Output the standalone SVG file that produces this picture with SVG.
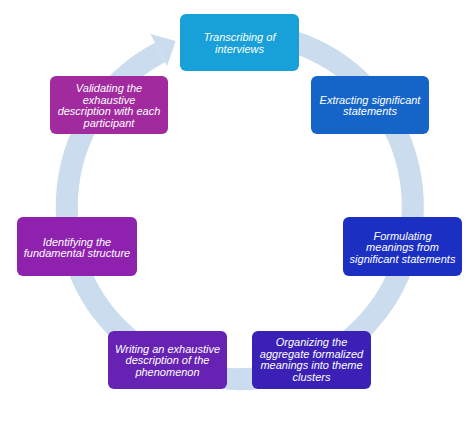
<svg xmlns="http://www.w3.org/2000/svg" width="476" height="430" viewBox="0 0 476 430">
<style>
.box{stroke:none}
.t{font-family:"Liberation Sans",Arial,sans-serif;font-size:11px;font-style:italic;fill:#ffffff;text-anchor:middle}
.ring{fill:none;stroke:#cadcee;stroke-width:22}
</style>
<rect width="476" height="430" fill="#ffffff"/>
<g id="connectors">
<path class="ring" d="M 224.9 33.7 A 173 173 0 1 1 160.1 52.5"/>
<polygon points="150.4,33.9 175.6,41.1 167.1,65.9" fill="#cadcee"/>
</g>
<g id="n1">
<rect class="box" x="180" y="14" width="119" height="57" rx="6" fill="#18a0d8"/>
<text class="t" x="239.5" y="41">Transcribing of</text>
<text class="t" x="239.5" y="52.5">interviews</text>
</g>
<g id="n2">
<rect class="box" x="311" y="76" width="118" height="58" rx="6" fill="#1565c9"/>
<text class="t" x="370" y="103.5">Extracting significant</text>
<text class="t" x="370" y="115">statements</text>
</g>
<g id="n3">
<rect class="box" x="343" y="217" width="119" height="59" rx="6" fill="#1b30c2"/>
<text class="t" x="402.5" y="239.5">Formulating</text>
<text class="t" x="402.5" y="251">meanings from</text>
<text class="t" x="402.5" y="262.5">significant statements</text>
</g>
<g id="n4">
<rect class="box" x="252" y="331" width="119" height="58" rx="6" fill="#3a20b5"/>
<text class="t" x="311.5" y="346">Organizing the</text>
<text class="t" x="311.5" y="357.5">aggregate formalized</text>
<text class="t" x="311.5" y="369">meanings into theme</text>
<text class="t" x="311.5" y="380.5">clusters</text>
</g>
<g id="n5">
<rect class="box" x="108" y="331" width="119" height="58" rx="6" fill="#6622b2"/>
<text class="t" x="167.5" y="352.5">Writing an exhaustive</text>
<text class="t" x="167.5" y="364">description of the</text>
<text class="t" x="167.5" y="375.5">phenomenon</text>
</g>
<g id="n6">
<rect class="box" x="17" y="217" width="120" height="59" rx="6" fill="#8e22ae"/>
<text class="t" x="77" y="245.5">Identifying the</text>
<text class="t" x="77" y="257">fundamental structure</text>
</g>
<g id="n7">
<rect class="box" x="50" y="76" width="118" height="58" rx="6" fill="#a02a9e"/>
<text class="t" x="109" y="92">Validating the</text>
<text class="t" x="109" y="103.5">exhaustive</text>
<text class="t" x="109" y="115">description with each</text>
<text class="t" x="109" y="126.5">participant</text>
</g>
</svg>
